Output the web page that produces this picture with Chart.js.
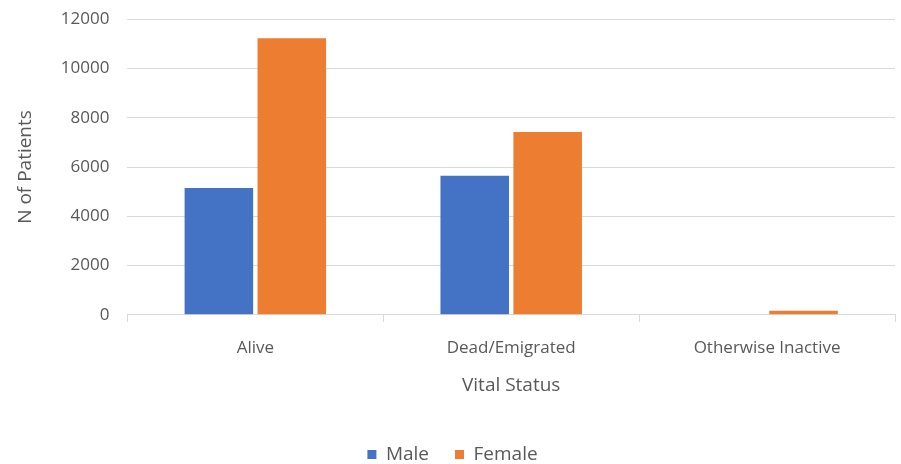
<!DOCTYPE html>
<html>
<head>
<meta charset="utf-8">
<script src="https://cdn.jsdelivr.net/npm/chart.js@4"></script>
<style>
  html, body { margin: 0; padding: 0; background: #fff; overflow: hidden; }
  #wrap { width: 901px; height: 483px; margin-top: -9px; }
</style>
</head>
<body>
<div id="wrap"><canvas id="chart"></canvas></div>
<script>
const categories = ["Alive", "Dead/Emigrated", "Otherwise Inactive"];
const maleValues = [5150, 5640, 0];
const femaleValues = [11230, 7420, 160];
const yTicks = [0, 2000, 4000, 6000, 8000, 10000, 12000];

const font = "'Open Sans', 'Noto Sans', sans-serif";
const grey = "#595959";

new Chart(document.getElementById("chart"), {
  type: "bar",
  data: {
    labels: categories,
    datasets: [
      { label: "Male", data: maleValues, backgroundColor: "#4472c4" },
      { label: "Female", data: femaleValues, backgroundColor: "#ed7d31" },
    ],
  },
  options: {
    responsive: true,
    maintainAspectRatio: false,
    animation: false,
    datasets: { bar: { barPercentage: 0.94, categoryPercentage: 0.57 } },
    layout: { padding: { top: 0, right: 6, left: 10, bottom: 0 } },
    plugins: {
      legend: {
        position: "bottom",
        labels: {
          color: grey,
          font: { family: font, size: 19 },
          usePointStyle: true,
          pointStyle: "rect",
          boxWidth: 9,
          boxHeight: 9,
          padding: 26,
        },
      },
      tooltip: { enabled: false },
    },
    scales: {
      x: {
        grid: {
          drawOnChartArea: false,
          drawTicks: true,
          tickLength: 7,
          color: "#d9d9d9",
          offset: true,
        },
        border: { color: "#d9d9d9" },
        ticks: { color: grey, font: { family: font, size: 17 }, padding: 16 },
        title: {
          display: true,
          text: "Vital Status",
          color: grey,
          font: { family: font, size: 19 },
          padding: { top: 0, bottom: 22 },
        },
      },
      y: {
        min: 0,
        max: 12000,
        afterBuildTicks: (axis) => {
          axis.ticks = yTicks.map((v) => ({ value: v }));
        },
        grid: { color: "#d9d9d9", drawTicks: false },
        border: { display: false },
        ticks: {
          color: grey,
          font: { family: font, size: 17 },
          padding: 18,
          callback: (v) => String(v),
        },
        title: {
          display: true,
          text: "N of Patients",
          color: grey,
          font: { family: font, size: 19 },
          padding: { bottom: 6 },
        },
      },
    },
  },
});
</script>
</body>
</html>
